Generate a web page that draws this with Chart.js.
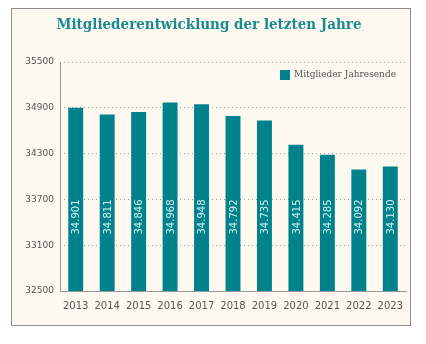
<!DOCTYPE html>
<html>
<head>
<meta charset="utf-8">
<script src="https://cdn.jsdelivr.net/npm/chart.js@4"></script>
<style>
body{margin:0;background:#fff;width:426px;height:344px;overflow:hidden;}
#card{position:absolute;left:11px;top:8px;width:398px;height:316px;border:1px solid #8c8c8c;background:#fdf9f0;}
</style>
</head>
<body>
<div id="card"><canvas id="canvas" width="398" height="316"></canvas></div>
<script>
var years=['2013','2014','2015','2016','2017','2018','2019','2020','2021','2022','2023'];
var members=[34901,34811,34846,34968,34948,34792,34735,34415,34285,34092,34130];
var yTicks=[32500,33100,33700,34300,34900,35500];
var seriesName='Mitglieder Jahresende';
var barColor='#00828c';

// zahl im balken, senkrecht + legende oben rechts + y-achse durchgezogen
var barLabels={
	id:'barLabels',
	afterDatasetsDraw:function(chart){
		var ctx=chart.ctx;
		var meta=chart.getDatasetMeta(0);
		var area=chart.chartArea;
		ctx.save();
		ctx.strokeStyle='#999';
		ctx.lineWidth=1;
		ctx.beginPath();
		ctx.moveTo(Math.round(area.left)+0.5,area.top);
		ctx.lineTo(Math.round(area.left)+0.5,area.bottom);
		ctx.stroke();

		ctx.fillStyle='#d4f4f4';
		ctx.font='10px "DejaVu Sans"';
		ctx.textAlign='center';
		ctx.textBaseline='middle';
		for(var i=0;i<meta.data.length;i++){
			var bar=meta.data[i];
			var txt=members[i].toLocaleString('de-DE');
			ctx.save();
			ctx.translate(bar.x+1,area.bottom-74);
			ctx.rotate(-Math.PI/2);
			ctx.fillText(txt,0,0);
			ctx.restore();
		}
		// legende
		ctx.font='9px "DejaVu Serif"';
		ctx.textAlign='left';
		var w=ctx.measureText(seriesName).width;
		var lx=area.right-10-w-14;
		var ly=area.top+13;
		ctx.fillStyle=barColor;
		ctx.fillRect(lx,ly-5,10,10);
		ctx.fillStyle='#555';
		ctx.fillText(seriesName,lx+14,ly);
		ctx.restore();
	}
};

var ctx=document.getElementById('canvas').getContext('2d');
window.myBar=new Chart(ctx,{
	type:'bar',
	data:{
		labels:years,
		datasets:[{
			label:seriesName,
			data:members,
			backgroundColor:barColor,
			barPercentage:0.95,
			categoryPercentage:0.5
		}]
	},
	options:{
		responsive:false,
		animation:false,
		layout:{padding:{left:0,right:4,bottom:12}},
		plugins:{
			title:{
				display:true,
				text:'Mitgliederentwicklung der letzten Jahre',
				color:'#1a8a8f',
				font:{family:'"DejaVu Serif Condensed", "DejaVu Serif"',size:15,weight:'bold'},
				padding:{top:7,bottom:28}
			},
			legend:{display:false},
			tooltip:{enabled:false}
		},
		scales:{
			y:{
				min:32500,max:35500,
				afterFit:function(s){s.width=48;},
				afterBuildTicks:function(s){s.ticks=yTicks.map(function(v){return {value:v};});},
				border:{display:false,dash:[1,3]},
				grid:{color:'#999',drawTicks:false,lineWidth:1},
				ticks:{color:'#555',padding:6,font:{family:'"DejaVu Sans"',size:9},callback:function(v){return String(v);}}
			},
			x:{
				border:{display:true,color:'#999'},
				grid:{display:false},
				ticks:{color:'#555',padding:1,font:{family:'"DejaVu Sans"',size:10}}
			}
		}
	},
	plugins:[barLabels]
});
</script>
</body>
</html>
